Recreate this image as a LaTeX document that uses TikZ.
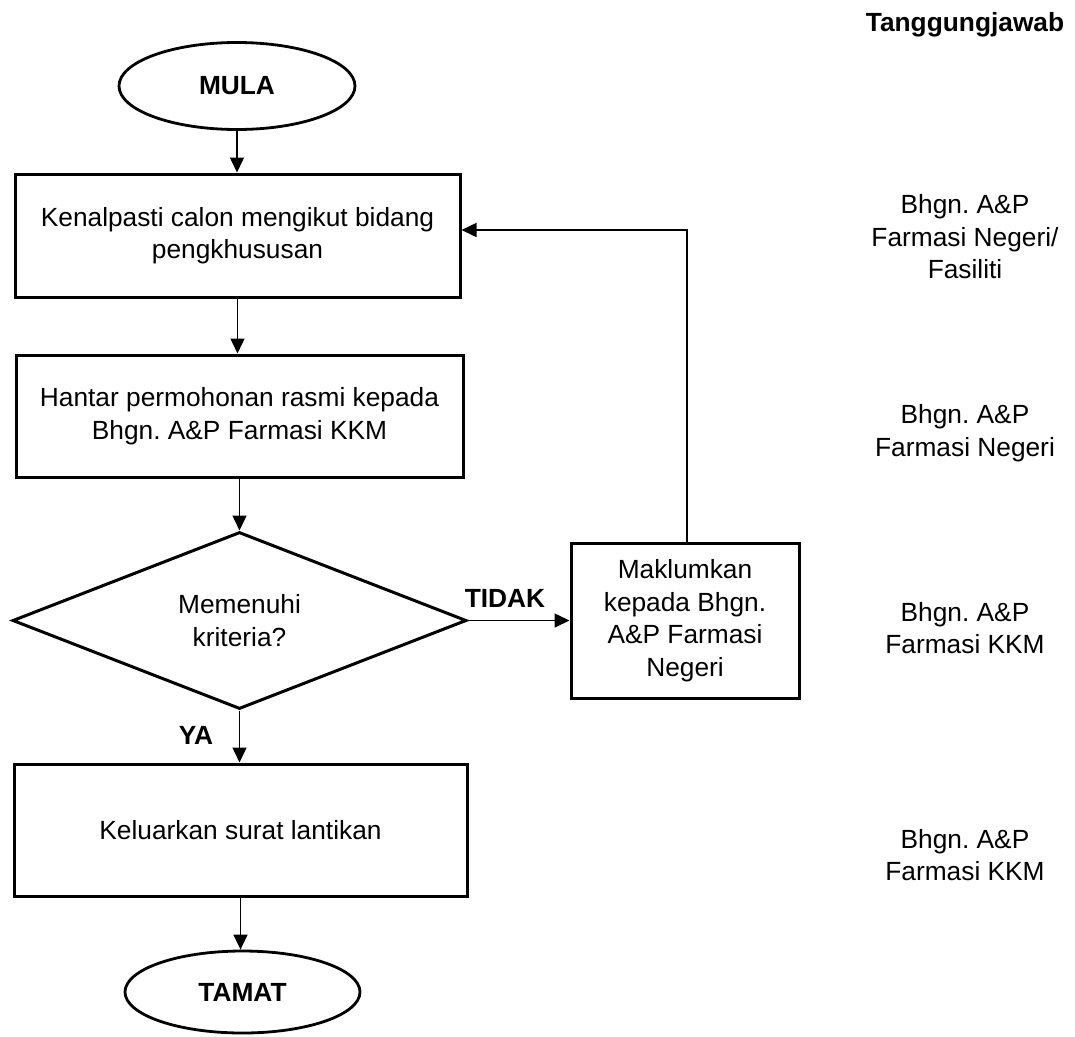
\documentclass[tikz,border=0pt]{standalone}
\usepackage{fontspec}
\setmainfont{Liberation Sans}
\usetikzlibrary{shapes.geometric,arrows.meta}
\newcommand{\fsz}{\fontsize{26.3}{32.5}\selectfont\frenchspacing}
\frenchspacing
\begin{document}
\begin{tikzpicture}[x=1pt,y=-1pt,
  box/.style={draw,line width=3pt,inner sep=0pt,align=center,font=\fsz},
  term/.style={draw,ellipse,line width=2.8pt,inner sep=0pt,font=\fsz\bfseries},
  dec/.style={draw,diamond,aspect=2.56,line width=3pt,inner sep=0pt,align=center,font=\fsz},
  conn/.style={line width=1.5pt,-{Triangle[length=15pt,width=14pt]}},
  lbl/.style={font=\fsz\bfseries,inner sep=0pt},
  resp/.style={font=\fsz,align=center,inner sep=0pt}]
\useasboundingbox (0,0) rectangle (1075,1036);

\node[term,minimum width=236pt,minimum height=87pt] (mula) at (237,86) {MULA};
\node[box,minimum width=445pt,minimum height=123pt] (b1) at (237.5,235.5) {Kenalpasti calon mengikut bidang\\pengkhususan};
\node[box,minimum width=447pt,minimum height=122pt] (b2) at (239.5,416) {Hantar permohonan rasmi kepada\\Bhgn. A\&P Farmasi KKM};
\node[dec,minimum width=454pt,minimum height=177pt] (dec) at (239.5,620.5) {Memenuhi\\kriteria?};
\node[box,minimum width=228pt,minimum height=155pt] (mak) at (685,620.5) {Maklumkan\\kepada Bhgn.\\A\&P Farmasi\\Negeri};
\node[box,minimum width=453pt,minimum height=132pt] (b3) at (240.5,830) {Keluarkan surat lantikan};
\node[term,minimum width=235pt,minimum height=82pt] (tamat) at (242.5,992) {TAMAT};

\node[lbl] (tidak) at (505,598) {TIDAK};
\node[lbl] (ya) at (196,735) {YA};

\node[lbl] (tj) at (965,25) {Tanggungjawab};
\node[resp] (r1) at (965,237) {Bhgn. A\&P\\Farmasi Negeri/\\Fasiliti};
\node[resp] (r2) at (965,433) {Bhgn. A\&P\\Farmasi Negeri};
\node[resp] (r3) at (965,628) {Bhgn. A\&P\\Farmasi KKM};
\node[resp] (r4) at (965,855) {Bhgn. A\&P\\Farmasi KKM};

\draw[conn] (mula.south) -- (mula.south |- b1.north);
\draw[conn] (b1.south) -- (b1.south |- b2.north);
\draw[conn] (b2.south) -- (b2.south |- dec.north);
\draw[conn] (dec.south) -- (dec.south |- b3.north);
\draw[conn] (b3.south) -- (b3.south |- tamat.north);
\draw[conn] (dec.east) -- (mak.west);
\coordinate (loopc) at (687,230);
\draw[conn] (mak.north -| loopc) -- (loopc) -- (b1.east |- loopc);
\end{tikzpicture}
\end{document}
